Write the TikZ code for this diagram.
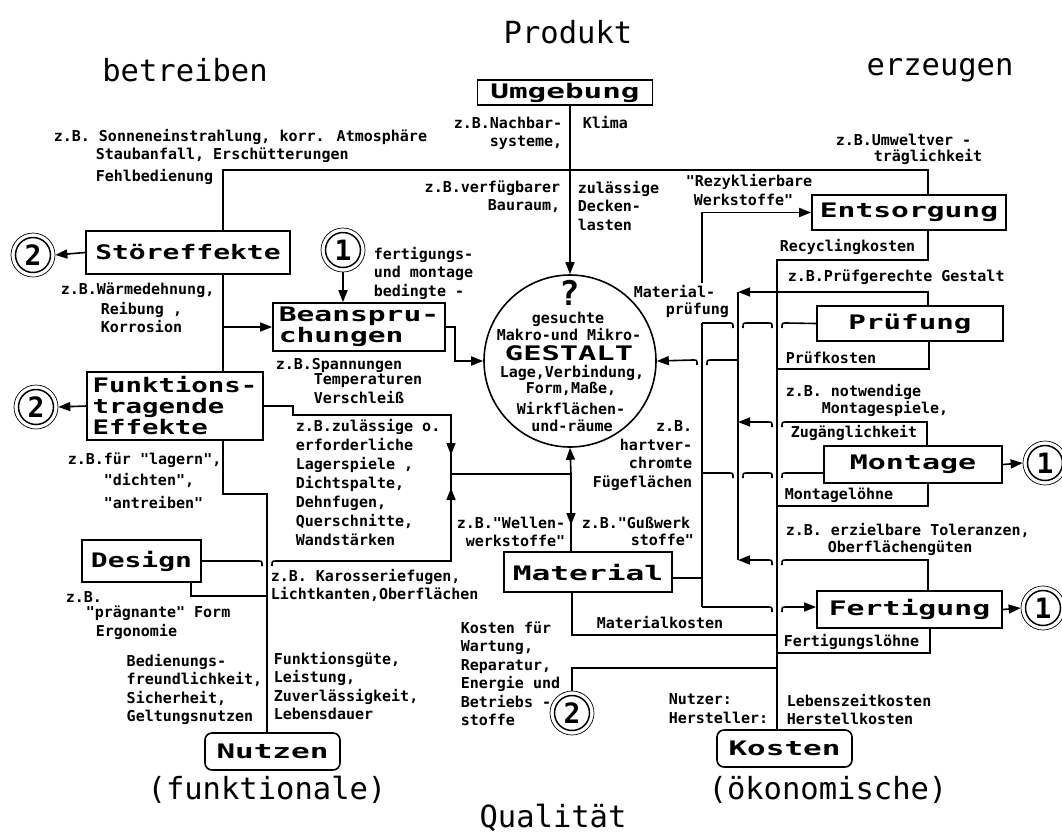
\documentclass[tikz,border=0pt]{standalone}
\usepackage{fontspec}
\usepackage{graphicx}
\usetikzlibrary{arrows.meta}
\newfontfamily\mono{DejaVu Sans Mono}
\newcommand\tb[2][1.45]{\scalebox{#1}[1]{#2}}
\tikzset{
  arr/.style={-{Triangle[length=12pt,width=9pt]}},
  lbl/.style={font=\mono\bfseries\fontsize{15}{18.5}\selectfont, inner sep=0pt},
  tbox/.style={draw, line width=1.6pt, inner sep=0pt, font=\mono\bfseries\fontsize{20}{21}\selectfont},
  rtbox/.style={tbox, rounded corners=7pt},
  ttext/.style={inner sep=0pt, font=\mono\bfseries\fontsize{20}{21}\selectfont},
  ttitle/.style={font=\mono\fontsize{30.5}{32}\selectfont, inner sep=0pt},
  numc/.style={circle, draw, line width=0.7pt, minimum size=44pt, inner sep=0pt,
    font=\mono\bfseries\fontsize{28}{28}\selectfont,
    path picture={\draw[line width=1.5pt] (path picture bounding box.center) circle[radius=17.5pt];}},
  hopr/.style 2 args={insert path={-- ({#1-9},{#2}) .. controls ({#1-5},{#2}) .. ({#1-5},{#2+5}) ({#1+5},{#2+5}) .. controls ({#1+5},{#2}) .. ({#1+9},{#2})}},
  hopl/.style 2 args={insert path={-- ({#1+9},{#2}) .. controls ({#1+5},{#2}) .. ({#1+5},{#2+5}) ({#1-5},{#2+5}) .. controls ({#1-5},{#2}) .. ({#1-9},{#2})}},
}
\begin{document}
\begin{tikzpicture}[x=1pt,y=-1pt,line width=1.6pt]
\fill[white] (0,0) rectangle (1062,836);
\useasboundingbox (0,0) rectangle (1062,836);

% titles
\node[ttitle] (tprod) at (568,32) {Produkt};
\node[ttitle] (tbetr) at (185,70) {betreiben};
\node[ttitle] (terz) at (940,70) {erzeugen};
\node[ttitle] (tqual) at (553,818) {Qualität};
\node[ttitle] (tfunk) at (267,790) {(funktionale)};
\node[ttitle] (toek) at (828,790) {(ökonomische)};

% boxes
\node[tbox, minimum width=175pt, minimum height=25pt] (umg) at (565,92.5) {\tb[1.55]{Umgebung}};
\node[tbox, minimum width=204pt, minimum height=43pt] (stoer) at (188,252.5) {\tb[1.40]{Störeffekte}};
\node[tbox, minimum width=172pt, minimum height=48pt, align=left] (bean) at (359,327) {\tb[1.48]{Beanspru-}\\\tb[1.48]{chungen}};
\node[tbox, minimum width=176pt, minimum height=68pt, align=left] (funk) at (175,406) {\tb[1.37]{Funktions-}\\\tb[1.37]{tragende}\\\tb[1.37]{Effekte}};
\node[tbox, minimum width=119pt, minimum height=42pt] (design) at (141.5,561) {\tb[1.40]{Design}};
\node[rtbox, minimum width=135pt, minimum height=37pt] (nutzen) at (272.5,751.5) {\tb[1.55]{Nutzen}};
\node[tbox, minimum width=168pt, minimum height=40pt] (mat) at (588,572) {\tb[1.56]{Material}};
\node[tbox, minimum width=194pt, minimum height=35pt] (ents) at (909,212.5) {\tb[1.48]{Entsorgung}};
\node[tbox, minimum width=186pt, minimum height=35pt] (pruef) at (910,323.5) {\tb[1.46]{Prüfung}\hspace{48pt}};
\node[tbox, minimum width=178pt, minimum height=37pt] (mont) at (913,464.5) {\tb[1.50]{Montage}\hspace{12pt}};
\node[tbox, minimum width=185pt, minimum height=37pt] (fert) at (909.5,609.5) {\tb[1.49]{Fertigung}};
\node[rtbox, minimum width=135pt, minimum height=37pt] (kost) at (784.5,748.5) {\tb[1.55]{Kosten}};
\node[circle, draw, minimum size=172pt, inner sep=0pt] (gest) at (570,361) {};

% number circles
\node[numc] (c2a) at (33,255) {2};
\node[numc] (c2b) at (36,407) {2};
\node[numc] (c1a) at (343,250) {1};
\node[numc] (c1b) at (1045,463) {1};
\node[numc] (c1c) at (1043,608) {1};
\node[numc] (c2c) at (572,713) {2};

% circle content
\node[inner sep=0pt, font=\mono\bfseries\fontsize{34}{34}\selectfont] (gq) at (570,293) {?};
\node[lbl] (g1) at (568,319) {gesuchte};
\node[lbl] (g2) at (569,335) {Makro-und Mikro-};
\node[ttext] (g3) at (569,353) {\tb[1.52]{GESTALT}};
\node[lbl] (g4) at (572,373) {Lage,Verbindung,};
\node[lbl] (g5) at (571,389) {Form,Maße,};
\node[lbl] (g6) at (571,408) {Wirkflächen-};
\node[lbl] (g7) at (572,426) {und-räume};

% ---------- connectors, left/top ----------
\draw (223,0 |- stoer.north) -- (223,170) -- (928,170) -- (928,0 |- ents.north);
\draw[arr] (570,0 |- umg.south) -- (gest.north);
\draw (223,0 |- stoer.south) -- (223,0 |- funk.north);
\draw[arr] (223,0 |- bean.west) -- (bean.west);
\draw[arr] (stoer.west) -- (c2a.east);
\draw[arr] (funk.west) -- (c2b.east);
\draw[arr] (c1a.south) -- (343,0 |- bean.north);
\draw[arr] (bean.east) -- (455,327) -- (455,361) -- (gest.west);
\draw (funk.east) -- (293,406) -- (293,415) -- (451,415) -- (451,474) -- (571,474);
\draw[arr] (451,435) -- (451,455);
\draw[arr] (571,474) -- (gest.south);
\draw (571,474) -- (571,0 |- mat.north);
\draw[arr] (571,500) -- (571,525);
\draw (design.east) [hopr={267}{561}] -- (451,561) -- (451,474);
\draw[arr] (451,520) -- (451,488);
\draw (191,0 |- design.south) -- (191,596) -- (267,596);
\draw (223,0 |- funk.south) -- (223,494) -- (267,494) -- (267,0 |- nutzen.north);

% ---------- right side ----------
\draw[arr] (702,283) -- (702,0 |- ents.west) -- (ents.west);
\draw (702,323) -- (702,607);
\draw (702,323) [hopr={738}{323}] [hopr={777}{323}] -- (pruef.west);
\draw (702,473) [hopr={738}{473}] [hopr={777}{473}] -- (mont.west |- 702,473);
\draw[arr] (702,607) [hopr={777}{607}] -- (fert.west |- 702,607);
\draw (mat.east |- 0,578) -- (702,578);
\draw[arr] (738,360) [hopl={702}{360}] -- (gest.east);
\draw (738,292) -- (738,560);
\draw[arr] (928,0 |- pruef.north) -- (928,292) -- (738,292);
\draw[arr] (927,0 |- mont.north) -- (927,422) [hopl={777}{422}] -- (738,422);
\draw[arr] (928,0 |- fert.north) -- (928,560) [hopl={777}{560}] -- (738,560);
\draw[arr] (mont.east) -- (c1b.west);
\draw[arr] (fert.east) -- (c1c.west);

% cost bus
\draw (928,0 |- ents.south) -- (928,260) -- (777,260) -- (777,0 |- kost.north);
\draw (929,0 |- pruef.south) -- (929,369) -- (777,369);
\draw (928,0 |- mont.south) -- (928,506) -- (777,506);
\draw (930,0 |- fert.south) -- (930,653) -- (777,653);
\draw (572,0 |- mat.south) -- (572,635) -- (777,635);
\draw (c2c.north) -- (572,668) -- (777,668);

% ---------- labels ----------
\node[lbl, anchor=west] (l1) at (53,137) {z.B. Sonneneinstrahlung, korr. Atmosphäre};
\node[lbl, anchor=west] (l2) at (95,155) {Staubanfall, Erschütterungen};
\node[lbl, anchor=west] (l3) at (95,177) {Fehlbedienung};
\node[lbl, anchor=north east, align=right] (l4) at (563,116) {z.B.Nachbar-\\systeme,};
\node[lbl, anchor=west] (l5) at (582,123) {Klima};
\node[lbl, anchor=north east, align=right] (l6) at (561,180) {z.B.verfügbarer\\Bauraum,};
\node[lbl, anchor=north west, align=left] (l7) at (577,180) {zulässige\\Decken-\\lasten};
\node[lbl, anchor=west] (l8) at (835,140) {z.B.Umweltver -};
\node[lbl, anchor=west] (l9) at (873,157) {träglichkeit};
\node[lbl, anchor=west] (l10) at (685,182) {"Rezyklierbare};
\node[lbl, anchor=west] (l11) at (693,200) {Werkstoffe"};
\node[lbl, anchor=north west, align=left] (l12) at (373,246) {fertigungs-\\und montage\\bedingte -};
\node[lbl, anchor=west] (l13) at (633,292) {Material-};
\node[lbl, anchor=west] (l14) at (665,310) {prüfung};
\node[lbl, anchor=west] (l15) at (60,290) {z.B.Wärmedehnung,};
\node[lbl, anchor=north west, align=left] (l16) at (100,301) {Reibung ,\\Korrosion};
\node[lbl, anchor=west] (l17) at (275,365) {z.B.Spannungen};
\node[lbl, anchor=north west, align=left] (l18) at (313,373) {Temperaturen\\Verschleiß};
\node[lbl, anchor=west] (l19) at (67,460) {z.B.für "lagern",};
\node[lbl, anchor=west] (l20) at (103,480) {"dichten",};
\node[lbl, anchor=west] (l21) at (103,502) {"antreiben"};
\node[lbl, anchor=north west, align=left, font=\mono\bfseries\fontsize{15}{19}\selectfont] (l22) at (295,418) {z.B.zulässige o.\\erforderliche\\Lagerspiele ,\\Dichtspalte,\\Dehnfugen,\\Querschnitte,\\Wandstärken};
\node[lbl, anchor=north east, align=right] (l23) at (693,420) {z.B.\\hartver-\\chromte\\Fügeflächen};
\node[lbl, anchor=north east, align=right] (l24) at (566,516) {z.B."Wellen-\\werkstoffe"};
\node[lbl, anchor=west] (l25) at (581,523) {z.B."Gußwerk};
\node[lbl, anchor=west] (l26) at (630,540) {stoffe"};
\node[lbl, anchor=north west, align=left] (l27) at (270,568) {z.B. Karosseriefugen,\\Lichtkanten,Oberflächen};
\node[lbl, anchor=west] (l28) at (65,597) {z.B.};
\node[lbl, anchor=west] (l29) at (85,613) {"prägnante" Form};
\node[lbl, anchor=west] (l30) at (95,632) {Ergonomie};
\node[lbl, anchor=north east, align=left] (l31) at (263,653) {Bedienungs-\\freundlichkeit,\\Sicherheit,\\Geltungsnutzen};
\node[lbl, anchor=north west, align=left] (l32) at (273,651) {Funktionsgüte,\\Leistung,\\Zuverlässigkeit,\\Lebensdauer};
\node[lbl, anchor=north west, align=left] (l33) at (460,621) {Kosten für\\Wartung,\\Reparatur,\\Energie und\\Betriebs -\\stoffe};
\node[lbl, anchor=west] (l34) at (596,622) {Materialkosten};
\node[lbl, anchor=north west, align=left] (l35) at (668,693) {Nutzer:\\Hersteller:};
\node[lbl, anchor=north west, align=left] (l36) at (786,693) {Lebenszeitkosten\\Herstellkosten};
\node[lbl, anchor=west] (l37) at (779,247) {Recyclingkosten};
\node[lbl, anchor=west] (l38) at (787,277) {z.B.Prüfgerechte Gestalt};
\node[lbl, anchor=west] (l39) at (785,358) {Prüfkosten};
\node[lbl, anchor=west] (l40) at (785,392) {z.B. notwendige};
\node[lbl, anchor=west] (l41) at (821,409) {Montagespiele,};
\node[lbl, anchor=west] (l42) at (790,433) {Zugänglichkeit};
\node[lbl, anchor=west] (l43) at (784,495) {Montagelöhne};
\node[lbl, anchor=west] (l44) at (785,530) {z.B. erzielbare Toleranzen,};
\node[lbl, anchor=west] (l45) at (827,548) {Oberflächengüten};
\node[lbl, anchor=west] (l46) at (783,642) {Fertigungslöhne};
\end{tikzpicture}
\end{document}
